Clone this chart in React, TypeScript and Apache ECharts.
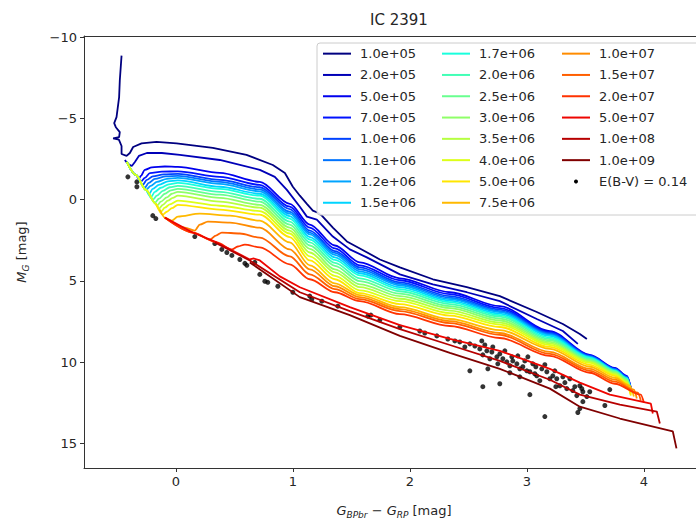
import React, { useEffect, useRef } from "react";
import * as echarts from "echarts";

const FONT = "DejaVu Sans, Liberation Sans, sans-serif";
const TEXT = "#262626";
const SPINE = "#333333";

const ageLabels = [
  "1.0e+05", "2.0e+05", "5.0e+05", "7.0e+05", "1.0e+06", "1.1e+06", "1.2e+06", "1.5e+06",
  "1.7e+06", "2.0e+06", "2.5e+06", "3.0e+06", "3.5e+06", "4.0e+06", "5.0e+06", "7.5e+06",
  "1.0e+07", "1.5e+07", "2.0e+07", "5.0e+07", "1.0e+08", "1.0e+09",
];
const starsLabel = "E(B-V) = 0.14";
const titleText = "IC 2391";
const xTickValues = [0, 1, 2, 3, 4];
const yTickValues = [-10, -5, 0, 5, 10, 15];
const xRange = [-0.785, 4.446];
const yRange = [-10.09, 16.53];

// isochrones: [colour index G_BPbr - G_RP, absolute magnitude M_G]
const iso1e5 = [[-0.464,-8.88],[-0.479,-7.35],[-0.485,-6.31],[-0.507,-5.09],[-0.527,-4.72],[-0.513,-4.47],[-0.479,-4.17],[-0.485,-3.86],[-0.536,-3.78],[-0.487,-3.71],[-0.464,-3.31],[-0.464,-2.82],[-0.421,-2.70],[-0.393,-2.88],[-0.365,-3.25],[-0.293,-3.47],[-0.165,-3.57],[0.006,-3.47],[0.316,-3.19],[0.604,-2.76],[0.829,-2.14],[0.932,-1.65],[1.0,-0.80],[1.060,-0.25],[1.120,0.25],[1.171,0.67],[1.214,0.80],[1.248,0.98],[1.342,1.72],[1.462,2.57],[1.573,3.00],[1.744,3.68],[1.915,4.17],[2.197,4.90],[2.487,5.39],[2.769,5.94],[3.085,6.92],[3.308,7.66],[3.453,8.27],[3.513,8.58]];
const iso2e5 = [[-0.436,-2.45],[-0.410,-2.21],[-0.376,-2.08],[-0.350,-2.33],[-0.316,-2.70],[-0.248,-2.88],[-0.120,-2.88],[0.034,-2.76],[0.376,-2.45],[0.718,-1.84],[0.846,-1.41],[0.949,-0.61],[1.060,0.43],[1.120,1.04],[1.205,1.23],[1.342,2.27],[1.487,3.06],[1.632,3.55],[1.915,4.60],[2.197,5.21],[2.487,5.70],[2.769,6.25],[3.085,7.35],[3.308,8.09],[3.436,8.88]];
const iso5e5 = [[-0.419,-2.33],[-0.342,-1.53],[-0.316,-1.29],[-0.299,-1.47],[-0.265,-1.84],[-0.205,-1.99],[-0.094,-2.05],[0.017,-2.02],[0.376,-1.65],[0.718,-1.10],[0.974,0.25],[1.145,1.53],[1.359,2.82],[1.573,3.86],[1.915,4.84],[2.342,5.70],[2.769,6.56],[3.197,8.09],[3.538,9.56],[3.752,10.36],[3.855,10.85],[3.889,11.58]];
const iso7e5 = [[-0.419,-2.33],[-0.342,-1.53],[-0.299,-1.10],[-0.265,-1.35],[-0.222,-1.64],[-0.120,-1.73],[0.017,-1.75],[0.376,-1.41],[0.718,-0.92],[0.974,0.43],[1.145,1.72],[1.359,3.00],[1.573,4.04],[1.915,4.96],[2.342,5.82],[2.769,6.68],[3.197,8.15],[3.538,9.59],[3.752,10.39],[3.855,10.88],[3.889,11.61]];
const iso1e6 = [[-0.419,-2.33],[-0.342,-1.53],[-0.282,-0.92],[-0.248,-1.23],[-0.197,-1.44],[-0.103,-1.56],[0.017,-1.59],[0.376,-1.23],[0.718,-0.77],[0.974,0.58],[1.145,1.90],[1.359,3.16],[1.573,4.17],[1.915,5.09],[2.342,5.94],[2.769,6.77],[3.197,8.21],[3.538,9.62],[3.752,10.42],[3.855,10.91],[3.889,11.64]];
const iso1p1e6 = [[-0.419,-2.33],[-0.342,-1.53],[-0.265,-0.74],[-0.231,-1.04],[-0.179,-1.29],[-0.085,-1.44],[0.017,-1.47],[0.376,-1.10],[0.718,-0.64],[0.974,0.74],[1.145,2.02],[1.359,3.28],[1.573,4.29],[1.915,5.18],[2.342,6.04],[2.769,6.86],[3.197,8.27],[3.538,9.65],[3.752,10.45],[3.855,10.94],[3.889,11.67]];
const iso1p2e6 = [[-0.419,-2.33],[-0.342,-1.53],[-0.256,-0.61],[-0.214,-0.86],[-0.162,-1.10],[-0.077,-1.29],[0.017,-1.35],[0.376,-0.98],[0.718,-0.52],[0.974,0.86],[1.145,2.14],[1.359,3.40],[1.573,4.41],[1.915,5.27],[2.342,6.13],[2.769,6.92],[3.197,8.33],[3.538,9.68],[3.752,10.48],[3.855,10.97],[3.889,11.70]];
const iso1p5e6 = [[-0.419,-2.33],[-0.342,-1.53],[-0.256,-0.61],[-0.231,-0.34],[-0.197,-0.67],[-0.145,-0.92],[-0.068,-1.13],[0.017,-1.19],[0.376,-0.80],[0.718,-0.37],[0.974,1.01],[1.145,2.30],[1.359,3.55],[1.573,4.53],[1.915,5.39],[2.342,6.22],[2.769,7.02],[3.197,8.39],[3.538,9.71],[3.752,10.51],[3.855,11.00],[3.889,11.73]];
const iso1p7e6 = [[-0.419,-2.33],[-0.342,-1.53],[-0.256,-0.61],[-0.214,-0.15],[-0.179,-0.49],[-0.128,-0.74],[-0.060,-0.95],[0.017,-1.04],[0.376,-0.67],[0.718,-0.25],[0.974,1.16],[1.145,2.45],[1.359,3.71],[1.573,4.66],[1.915,5.51],[2.342,6.31],[2.769,7.11],[3.197,8.49],[3.538,9.74],[3.752,10.54],[3.855,11.03],[3.889,11.76]];
const iso2e6 = [[-0.419,-2.33],[-0.342,-1.53],[-0.256,-0.61],[-0.197,0.00],[-0.162,-0.25],[-0.111,-0.55],[-0.051,-0.77],[0.017,-0.86],[0.376,-0.49],[0.718,-0.06],[0.974,1.35],[1.145,2.63],[1.359,3.89],[1.573,4.84],[1.915,5.64],[2.342,6.43],[2.769,7.20],[3.197,8.58],[3.538,9.80],[3.752,10.57],[3.855,11.06],[3.889,11.79]];
const iso2p5e6 = [[-0.419,-2.33],[-0.342,-1.53],[-0.256,-0.61],[-0.179,0.18],[-0.145,-0.06],[-0.094,-0.37],[-0.043,-0.58],[0.017,-0.67],[0.376,-0.31],[0.718,0.12],[0.974,1.53],[1.145,2.82],[1.359,4.07],[1.573,5.02],[1.915,5.79],[2.342,6.56],[2.769,7.32],[3.197,8.67],[3.538,9.87],[3.752,10.60],[3.855,11.09],[3.889,11.83]];
const iso3e6 = [[-0.419,-2.33],[-0.342,-1.53],[-0.256,-0.61],[-0.171,0.25],[-0.162,0.37],[-0.128,0.12],[-0.077,-0.15],[-0.034,-0.37],[0.017,-0.49],[0.376,-0.12],[0.718,0.31],[0.974,1.72],[1.145,3.03],[1.359,4.29],[1.573,5.21],[1.915,5.94],[2.342,6.68],[2.769,7.44],[3.197,8.76],[3.538,9.93],[3.752,10.66],[3.855,11.15],[3.889,11.89]];
const iso3p5e6 = [[-0.419,-2.33],[-0.342,-1.53],[-0.256,-0.61],[-0.171,0.25],[-0.145,0.55],[-0.111,0.31],[-0.068,0.06],[-0.026,-0.12],[0.017,-0.25],[0.376,0.12],[0.718,0.49],[0.974,1.90],[1.145,3.25],[1.359,4.47],[1.573,5.39],[1.915,6.10],[2.342,6.83],[2.769,7.57],[3.197,8.85],[3.538,9.99],[3.752,10.72],[3.855,11.21],[3.889,11.95]];
const iso4e6 = [[-0.419,-2.33],[-0.342,-1.53],[-0.256,-0.61],[-0.171,0.25],[-0.128,0.74],[-0.094,0.49],[-0.051,0.28],[0.017,0.06],[0.376,0.37],[0.718,0.70],[0.974,2.08],[1.145,3.49],[1.359,4.69],[1.573,5.58],[1.915,6.25],[2.342,6.99],[2.769,7.69],[3.197,8.95],[3.538,10.05],[3.752,10.78],[3.855,11.27],[3.889,12.01]];
const iso5e6 = [[-0.171,0.25],[-0.111,0.92],[-0.077,0.74],[-0.034,0.52],[0.017,0.31],[0.376,0.61],[0.718,0.92],[0.974,2.30],[1.145,3.74],[1.359,4.90],[1.573,5.76],[1.915,6.43],[2.342,7.14],[2.769,7.84],[3.197,9.07],[3.538,10.17],[3.752,10.85],[3.855,11.34],[3.889,12.07]];
const iso7p5e6 = [[-0.137,0.61],[-0.094,1.10],[-0.034,1.29],[0.017,1.04],[0.205,0.86],[0.462,0.98],[0.718,1.29],[0.974,2.63],[1.145,4.04],[1.359,5.15],[1.573,5.88],[1.915,6.62],[2.342,7.35],[2.769,8.03],[3.197,9.19],[3.538,10.29],[3.752,10.97],[3.880,11.46],[3.915,12.13]];
const iso1e7 = [[-0.094,1.10],[0.077,1.72],[0.162,1.90],[0.205,1.53],[0.274,1.35],[0.462,1.41],[0.718,1.72],[0.974,3.06],[1.145,4.29],[1.359,5.33],[1.573,6.00],[1.915,6.74],[2.342,7.48],[2.769,8.21],[3.197,9.38],[3.538,10.42],[3.752,11.09],[3.915,11.70],[3.940,12.25]];
const iso1p5e7 = [[-0.094,1.10],[0.145,2.02],[0.291,2.45],[0.342,2.21],[0.393,2.02],[0.547,2.08],[0.718,2.33],[0.974,3.49],[1.145,4.60],[1.359,5.51],[1.573,6.13],[1.915,6.86],[2.342,7.60],[2.769,8.33],[3.197,9.50],[3.538,10.54],[3.752,11.21],[3.949,11.89],[3.974,12.38]];
const iso2e7 = [[-0.094,1.10],[0.145,2.02],[0.350,2.63],[0.479,3.06],[0.530,2.88],[0.590,2.76],[0.718,2.94],[0.974,3.98],[1.145,4.90],[1.359,5.70],[1.573,6.25],[1.915,7.05],[2.342,7.78],[2.769,8.52],[3.197,9.62],[3.538,10.66],[3.752,11.34],[3.974,12.01],[4.0,12.50]];
const iso5e7 = [[-0.094,1.10],[0.145,2.02],[0.350,2.63],[0.632,3.68],[0.667,3.62],[0.718,3.74],[0.889,4.72],[1.060,5.39],[1.487,6.62],[1.915,7.72],[2.342,8.58],[2.769,9.31],[3.197,10.42],[3.453,11.27],[3.709,12.01],[4.060,12.56],[4.077,13.17]];
const iso1e8 = [[0.333,2.63],[0.632,3.74],[1.060,5.70],[1.487,6.86],[1.915,7.97],[2.342,8.95],[2.769,9.93],[3.197,11.09],[3.453,12.01],[3.795,12.62],[4.111,13.05],[4.137,13.79]];
const iso1e9 = [[0.632,3.86],[1.060,6.00],[1.487,7.11],[1.915,8.39],[2.342,9.44],[2.769,10.42],[3.197,11.64],[3.453,12.75],[3.795,13.48],[4.248,14.28],[4.279,15.32]];

const isochrones = [
  iso1e5, iso2e5, iso5e5, iso7e5, iso1e6, iso1p1e6, iso1p2e6, iso1p5e6, iso1p7e6, iso2e6, iso2p5e6,
  iso3e6, iso3p5e6, iso4e6, iso5e6, iso7p5e6, iso1e7, iso1p5e7, iso2e7, iso5e7, iso1e8, iso1e9,
];

// observed members of IC 2391, de-reddened with E(B-V) = 0.14
const stars = [
  [-0.410,-1.41],[-0.333,-1.10],[-0.333,-0.80],[-0.197,0.98],[-0.171,1.16],[0.162,2.27],[0.333,2.70],[0.393,3.06],
  [0.436,3.25],[0.479,3.43],[0.547,3.68],[0.590,3.92],[0.607,4.04],[0.675,3.86],[0.718,4.60],[0.761,5.02],
  [0.786,5.09],[0.872,5.33],[1.000,5.70],[1.145,5.94],[1.162,6.13],[1.248,6.25],[1.385,6.56],[1.641,7.17],
  [1.667,7.11],[1.744,7.41],[1.915,7.84],[2.085,8.09],[2.231,8.39],[2.325,8.58],[2.427,8.76],[2.513,8.88],
  [2.556,9.01],[2.598,9.19],[2.615,8.70],[2.624,9.56],[2.658,9.31],[2.684,9.80],[2.709,9.07],[2.744,9.68],
  [2.752,10.11],[2.795,9.80],[2.829,9.99],[2.855,10.23],[2.880,9.93],[2.915,10.11],[2.940,10.42],[2.966,10.29],
  [3.000,10.54],[3.026,10.60],[3.051,10.11],[3.068,10.72],[3.085,10.85],[3.111,11.15],[3.171,10.60],[3.197,11.03],
  [3.222,10.85],[3.256,11.03],[3.282,11.46],[3.308,10.91],[3.342,11.64],[3.393,11.76],[3.427,12.07],[3.453,11.46],
  [3.470,11.64],[3.479,11.83],[3.479,12.44],[3.453,12.87],[3.436,13.11],[3.538,11.83],[3.667,12.68],[3.709,11.70],
  [2.513,10.54],[2.624,11.52],[2.667,10.42],[2.769,11.34],[3.026,12.01],[3.154,13.36],[2.641,8.95],[2.701,9.38],
  [2.769,9.50],[2.812,9.31],[2.872,9.68],[2.923,9.62],[2.983,9.93],[3.009,9.68],[3.077,10.29],[3.128,10.42],
  [3.154,10.17],[3.239,10.54],[3.325,11.27],[3.368,11.03],[3.410,11.52],[3.513,12.13],[2.128,8.21],[2.385,8.70],
  [2.470,9.07],[2.855,10.66],[2.940,10.91],[3.248,11.52],
];

// matplotlib "jet" colour map stops (style only)
const JET = {
  r: [[0, 0], [0.35, 0], [0.66, 1], [0.89, 1], [1, 0.5]],
  g: [[0, 0], [0.125, 0], [0.375, 1], [0.64, 1], [0.91, 0], [1, 0]],
  b: [[0, 0.5], [0.11, 1], [0.34, 1], [0.65, 0], [1, 0]],
};
function channel(stops: number[][], t: number) {
  for (let k = 1; k < stops.length; k++) {
    if (t <= stops[k][0]) {
      const [t0, v0] = stops[k - 1];
      const [t1, v1] = stops[k];
      return v0 + ((t - t0) / (t1 - t0)) * (v1 - v0);
    }
  }
  return stops[stops.length - 1][1];
}
function jet(t: number) {
  const c = (s: number[][]) => Math.round(255 * channel(s, t));
  return `rgb(${c(JET.r)},${c(JET.g)},${c(JET.b)})`;
}

const tickFormatter = (v: number) => (v < 0 ? `\u2212${Math.abs(v)}` : `${v}`);

const nameRich = {
  n: { fontSize: 13, color: TEXT, fontFamily: FONT, lineHeight: 18 },
  i: { fontSize: 13, fontStyle: "italic", color: TEXT, fontFamily: FONT, lineHeight: 18 },
  s: { fontSize: 9, fontStyle: "italic", color: TEXT, fontFamily: FONT, lineHeight: 10, verticalAlign: "bottom" },
};

export default function App() {
  const ref = useRef<HTMLDivElement>(null);
  useEffect(() => {
    if (!ref.current) return;
    const chart = echarts.init(ref.current, null, { renderer: "svg" });
    const n = isochrones.length;
    const colors = isochrones.map((_, i) => jet(i / (n - 1)));

    const legendCommon = {
      orient: "vertical",
      itemWidth: 28,
      itemHeight: 4,
      itemGap: 0,
      padding: 0,
      top: 43,
      selectedMode: false,
      itemStyle: { opacity: 0 },
      lineStyle: { width: 2 },
      textStyle: { fontSize: 13, lineHeight: 21.3, color: TEXT, fontFamily: FONT, padding: [0, 0, 0, 4] },
    };

    const lineSeries = isochrones.map((pts, i) => {
      const smoothIt = i >= 2 && i <= 18;
      return {
        type: "line",
        name: ageLabels[i],
        data: pts,
        symbol: "none",
        showSymbol: false,
        silent: true,
        z: 2,
        smooth: smoothIt ? 0.3 : false,
        smoothMonotone: smoothIt ? "x" : undefined,
        lineStyle: { width: 1.8, color: colors[i] },
        itemStyle: { color: colors[i] },
      };
    });

    const axisLineStyle = { color: SPINE, width: 1 };

    const option = {
      animation: false,
      backgroundColor: "#ffffff",
      title: {
        text: titleText,
        left: 394,
        top: 7,
        textAlign: "center",
        textStyle: { fontSize: 15, fontWeight: "normal", fontFamily: FONT, color: TEXT },
      },
      grid: { left: 84, top: 36, right: 0, bottom: 55 },
      legend: [
        { ...legendCommon, left: 322, data: ageLabels.slice(0, 8) },
        { ...legendCommon, left: 441, data: ageLabels.slice(8, 16) },
        {
          ...legendCommon,
          left: 561,
          data: [...ageLabels.slice(16), { name: starsLabel, icon: "circle", itemStyle: { opacity: 1, color: "#000" } }],
        },
      ],
      graphic: [
        {
          type: "rect",
          z: 3,
          silent: true,
          shape: { x: 317, y: 43, width: 420, height: 172, r: 3 },
          style: { fill: "rgba(255,255,255,0.85)", stroke: "#cccccc", lineWidth: 1 },
        },
      ],
      xAxis: [
        {
          type: "value",
          min: xRange[0],
          max: xRange[1],
          position: "bottom",
          axisLine: { show: true, onZero: false, lineStyle: axisLineStyle },
          axisTick: { show: true, length: 4, customValues: xTickValues, lineStyle: axisLineStyle },
          axisLabel: { customValues: xTickValues, fontSize: 13, color: TEXT, fontFamily: FONT, margin: 7, formatter: tickFormatter },
          splitLine: { show: false },
          name: "{i|G}{s|BPbr}{n| \u2212 }{i|G}{s|RP}{n| [mag]}",
          nameLocation: "middle",
          nameGap: 33,
          nameTextStyle: { rich: nameRich, padding: [0, 0, 0, 8] },
        },
        {
          type: "value",
          min: xRange[0],
          max: xRange[1],
          position: "top",
          axisLine: { show: true, onZero: false, lineStyle: axisLineStyle },
          axisTick: { show: false },
          axisLabel: { show: false },
          splitLine: { show: false },
        },
      ],
      yAxis: {
        type: "value",
        min: yRange[0],
        max: yRange[1],
        inverse: true,
        axisLine: { show: true, onZero: false, lineStyle: axisLineStyle },
        axisTick: { show: true, length: 4, customValues: yTickValues, lineStyle: axisLineStyle },
        axisLabel: { customValues: yTickValues, fontSize: 13, color: TEXT, fontFamily: FONT, margin: 7, formatter: tickFormatter },
        splitLine: { show: false },
        name: "{i|M}{s|G}{n| [mag]}",
        nameLocation: "middle",
        nameRotate: 90,
        nameGap: 54,
        nameTextStyle: { rich: nameRich },
      },
      series: [
        ...lineSeries,
        {
          type: "scatter",
          name: starsLabel,
          data: stars,
          symbol: "circle",
          symbolSize: 5,
          silent: true,
          z: 1,
          itemStyle: { color: "#000000" },
        },
      ],
    };
    chart.setOption(option as any);
    return () => chart.dispose();
  }, []);
  return (
    <div
      ref={ref}
      style={{ position: "fixed", left: 0, top: 0, width: 696, height: 524, background: "#fff" }}
    />
  );
}
